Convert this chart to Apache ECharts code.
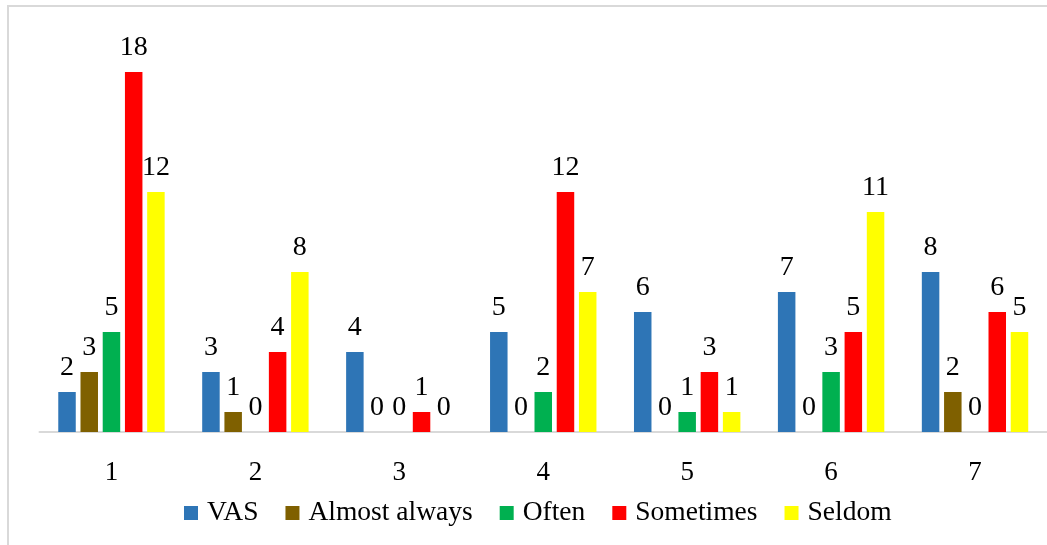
<!DOCTYPE html>
<html>
<head>
<meta charset="utf-8">
<title>VAS response frequencies</title>
<script src="https://cdn.jsdelivr.net/npm/echarts@6/dist/echarts.min.js"></script>
<style>
  html, body { margin: 0; padding: 0; background: #ffffff; }
  #chart { width: 1047px; height: 545px; }
</style>
</head>
<body>
<div id="chart"></div>
<script>
// Categories along the x axis
const categories = ['1', '2', '3', '4', '5', '6', '7'];

// Counts per category for each series
const vas          = [2, 3, 4, 5, 6, 7, 8];
const almostAlways = [3, 1, 0, 0, 0, 0, 2];
const often        = [5, 0, 0, 2, 1, 3, 0];
const sometimes    = [18, 4, 1, 12, 3, 5, 6];
const seldom       = [12, 8, 0, 7, 1, 11, 5];

const seriesNames  = ['VAS', 'Almost always', 'Often', 'Sometimes', 'Seldom'];
const seriesData   = [vas, almostAlways, often, sometimes, seldom];
const seriesColors = ['#2E75B6', '#7F6000', '#00B050', '#FF0000', '#FFFF00'];

const FONT = '"Liberation Serif", "Times New Roman", serif';

const chart = echarts.init(document.getElementById('chart'), null, { renderer: 'canvas' });

chart.setOption({
  animation: false,
  backgroundColor: '#ffffff',
  textStyle: { fontFamily: FONT },
  graphic: [{
    type: 'rect',
    silent: true,
    shape: { x: 8, y: 6, width: 1200, height: 700 },
    style: { fill: 'none', stroke: '#D9D9D9', lineWidth: 2 }
  }],
  grid: { left: 39.5, right: -7.5, top: 32, bottom: 113, containLabel: false },
  legend: {
    data: seriesNames,
    left: 184,
    top: 499,
    padding: 0,
    itemWidth: 14,
    itemHeight: 14,
    itemGap: 27,
    icon: 'rect',
    textStyle: { fontFamily: FONT, fontSize: 27.5, color: '#000000', padding: [0, 0, 0, 4] }
  },
  xAxis: {
    type: 'category',
    data: categories,
    axisLine: { show: true, lineStyle: { color: '#D9D9D9', width: 2 } },
    axisTick: { show: false },
    axisLabel: { margin: 27, fontFamily: FONT, fontSize: 27, color: '#000000' },
    splitLine: { show: false }
  },
  yAxis: {
    type: 'value',
    min: 0,
    max: 20,
    show: false
  },
  series: seriesNames.map((name, i) => ({
    name: name,
    type: 'bar',
    data: seriesData[i],
    barWidth: 17.5,
    barGap: '27%',
    itemStyle: { color: seriesColors[i] },
    label: {
      show: true,
      position: 'top',
      distance: 10,
      fontFamily: FONT,
      fontSize: 28,
      color: '#000000'
    }
  }))
});
</script>
</body>
</html>
